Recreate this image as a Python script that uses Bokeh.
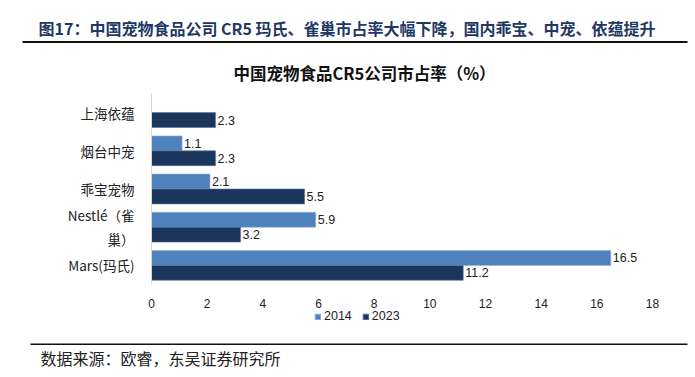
import numpy as np
from bokeh.plotting import figure
from bokeh.layouts import column
from bokeh.models import (ColumnDataSource, FactorRange, Range1d,
                          Legend, LegendItem, LabelSet, FixedTicker)
from bokeh.transform import dodge
from bokeh.core.properties import value
from bokeh.embed import file_html
from bokeh.resources import INLINE

companies = ["上海依蕴", "烟台中宠", "乖宝宠物", "Nestlé（雀\n巢）", "Mars(玛氏)"]
share_2014 = [0.0, 1.1, 2.1, 5.9, 16.5]
share_2023 = [2.3, 2.3, 5.5, 3.2, 11.2]
x_ticks = [0, 2, 4, 6, 8, 10, 12, 14, 16, 18]
series_names = ["2014", "2023"]

fig_title = "图17：中国宠物食品公司 CR5 玛氏、雀巢市占率大幅下降，国内乖宝、中宠、依蕴提升"
chart_title = "中国宠物食品CR5公司市占率（%）"
source_note = "数据来源：欧睿，东吴证券研究所"

C14 = "#4f81bd"
C23 = "#1b365d"
CJK = "Noto Sans CJK SC"
LAT = "Liberation Sans"
W = 695


def blank(h):
    f = figure(width=W, height=h, x_range=Range1d(0, W), y_range=Range1d(h, 0),
               output_backend="svg", toolbar_location=None, x_axis_type=None,
               y_axis_type=None, min_border=0, outline_line_color=None)
    f.xgrid.visible = False
    f.ygrid.visible = False
    return f


# ---- header (page y 0..93) ----
head = blank(93)
head.text(x=[38], y=[27], text=[fig_title], text_font=value(CJK), text_font_style="bold",
          text_font_size="16px", text_color="#1f3864", text_baseline="middle")
head.line(x=[22, 687], y=[41.5, 41.5], line_color="#111111", line_width=2)
head.text(x=[364], y=[72], text=[chart_title], text_font=value(CJK),
          text_font_style="bold", text_font_size="16.5px", text_color="#111111",
          text_align="center", text_baseline="middle")

# ---- main chart (page y 93..310) ----
src = ColumnDataSource(dict(company=companies, v2014=share_2014, v2023=share_2023))

p = figure(width=W, height=217, y_range=FactorRange(*companies[::-1]),
           x_range=(0, 18), output_backend="svg", toolbar_location=None,
           min_border_left=151, min_border_right=43, min_border_top=0,
           min_border_bottom=22, outline_line_color=None)

p.hbar(y=dodge("company", 0.195, range=p.y_range), right="v2014", height=0.39,
       source=src, fill_color=C14, line_color="#8eaed8", line_width=0.6)
p.hbar(y=dodge("company", -0.195, range=p.y_range), right="v2023", height=0.39,
       source=src, fill_color=C23, line_color="#5a7498", line_width=0.6)

for vals, off in ((share_2014, 0.195), (share_2023, -0.195)):
    cats = [c for c, v in zip(companies, vals) if v > 0]
    vs = [v for v in vals if v > 0]
    ls = ColumnDataSource(dict(company=cats, v=vs, t=[f"{v:.1f}" for v in vs]))
    p.add_layout(LabelSet(x="v", y=dodge("company", off, range=p.y_range), text="t",
                          source=ls, x_offset=2, text_baseline="middle",
                          text_font_size="12.5px", text_color="#222222",
                          text_font=value(LAT)))

p.xgrid.visible = False
p.ygrid.visible = False

p.xaxis.ticker = FixedTicker(ticks=x_ticks)
p.xaxis.axis_line_color = None
p.xaxis.major_tick_line_color = None
p.xaxis.minor_tick_line_color = None
p.xaxis.major_label_text_font_size = "12px"
p.xaxis.major_label_text_color = "#222222"
p.xaxis.major_label_text_font = LAT
p.xaxis.major_label_standoff = 8

p.yaxis.axis_line_color = "#d9d9d9"
p.yaxis.major_tick_line_color = None
p.yaxis.minor_tick_line_color = None
p.yaxis.major_label_text_font_size = "13.5px"
p.yaxis.major_label_text_color = "#222222"
p.yaxis.major_label_text_font = CJK
p.yaxis.major_label_standoff = 11

# ---- footer with legend (page y 310..377) ----
FH = 67
foot = blank(FH)
nan = np.array([np.nan])
k14 = foot.hbar(y=nan, right=nan, height=1, fill_color=C14, line_color="#8eaed8")
k23 = foot.hbar(y=nan, right=nan, height=1, fill_color=C23, line_color="#5a7498")
legend = Legend(items=[LegendItem(label=series_names[0], renderers=[k14]),
                       LegendItem(label=series_names[1], renderers=[k23])],
                orientation="horizontal", location=(314, 54),
                label_text_font_size="12.5px", label_text_font=LAT,
                label_text_color="#222222", glyph_width=7, glyph_height=7,
                label_standoff=3, spacing=10, padding=0, margin=0,
                border_line_color=None, background_fill_alpha=0,
                label_height=14)
foot.add_layout(legend)
foot.line(x=[30, 687], y=[33.8, 33.8], line_color="#111111", line_width=1.6)
foot.text(x=[40], y=[47], text=[source_note], text_font=value(CJK),
          text_font_size="16px", text_color="#222222", text_baseline="middle")

layout = column(column(head), p, column(foot), spacing=0)
open("out.html", "w").write(file_html(layout, INLINE))
